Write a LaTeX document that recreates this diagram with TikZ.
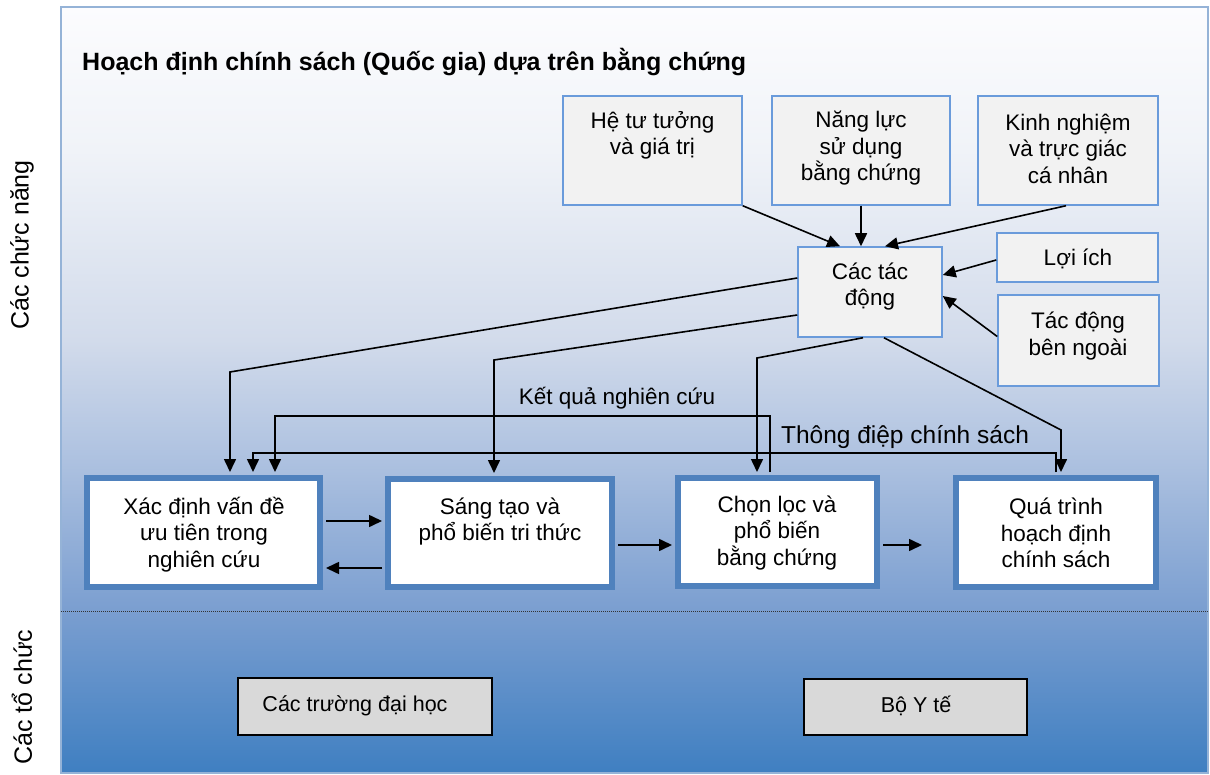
\documentclass[tikz,border=0pt]{standalone}
\usepackage{fontspec}
\setmainfont{Liberation Sans}
\usetikzlibrary{arrows.meta,calc}

\definecolor{bandA}{HTML}{FCFCFE}
\definecolor{bandB}{HTML}{F0F3F8}
\definecolor{bandC}{HTML}{D2DBEB}
\definecolor{bandD}{HTML}{AABFDF}
\definecolor{bandE}{HTML}{7A9ED0}
\definecolor{bandF}{HTML}{3F7FC1}
\definecolor{frameblue}{HTML}{95B3D7}
\definecolor{inborder}{HTML}{6A9BDB}
\definecolor{infill}{HTML}{F2F2F2}
\definecolor{stepblue}{HTML}{4F81BD}
\definecolor{orgfill}{HTML}{D9D9D9}

\begin{document}
\begin{tikzpicture}[x=1pt,y=-1pt,
  every node/.style={inner sep=0pt},
  inbox/.style={draw=inborder, fill=infill, line width=1.5pt},
  stepbox/.style={draw=stepblue, fill=white, line width=6pt},
  orgbox/.style={draw=black, fill=orgfill, line width=1.6pt},
  txt/.style={align=center, font=\fontsize{22.5}{26.5}\selectfont},
  lbl/.style={font=\fontsize{22.5}{27}\selectfont},
  arr/.style={draw=black, line width=1.6pt, -{Triangle[length=13pt,width=12pt]}},
]
\useasboundingbox (0,0) rectangle (1210,775);

% panel background, shaded in bands from white down to blue
\shade[top color=bandA, bottom color=bandB] (61,7) rectangle (1208,150.5);
\shade[top color=bandB, bottom color=bandC] (61,150) rectangle (1208,340.5);
\shade[top color=bandC, bottom color=bandD] (61,340) rectangle (1208,470.5);
\shade[top color=bandD, bottom color=bandE] (61,470) rectangle (1208,611.5);
\shade[top color=bandE, bottom color=bandF] (61,611) rectangle (1208,773);
\draw[frameblue, line width=1.5pt] (61,7) rectangle (1208,773);

% split between functions and organisations
\coordinate (dl) at (61,611);
\coordinate (dr) at (1208,611);
\draw[black!80, line width=1pt, dash pattern=on 1pt off 1pt] (dl) -- (dr);

% side captions
\node[font=\fontsize{25}{29}\selectfont, rotate=90] (capfun) at (22,245) {Các chức năng};
\node[font=\fontsize{25}{29}\selectfont, rotate=90] (caporg) at (22,697) {Các tổ chức};

% title
\node[anchor=west, font=\fontsize{25}{29}\selectfont\bfseries] (title) at (82,62)
  {Hoạch định chính sách (Quốc gia) dựa trên bằng chứng};

% influences
\node[inbox, minimum width=179pt, minimum height=109pt] (hetu) at (652.5,150.5) {};
\node[txt] (hetu-t) at (652.5,135.5) {Hệ tư tưởng\\và giá trị};
\node[inbox, minimum width=178pt, minimum height=109pt] (nang) at (861,150.5) {};
\node[txt] (nang-t) at (861,148.5) {Năng lực\\sử dụng\\bằng chứng};
\node[inbox, minimum width=180pt, minimum height=109pt] (kinh) at (1068,150.5) {};
\node[txt] (kinh-t) at (1068,148.5) {Kinh nghiệm\\và trực giác\\cá nhân};
\node[inbox, minimum width=144pt, minimum height=90pt] (tac) at (870,292) {};
\node[txt] (tac-t) at (870,286.5) {Các tác\\động};
\node[inbox, minimum width=161pt, minimum height=49pt] (loi) at (1077.5,257.5) {};
\node[txt] (loi-t) at (1078,258.5) {Lợi ích};
\node[inbox, minimum width=161pt, minimum height=91pt] (ngoai) at (1078.5,340.5) {};
\node[txt] (ngoai-t) at (1078,336) {Tác động\\bên ngoài};

\draw[arr] (hetu.south east) -- ($(tac.north)+(-30,0)$);
\draw[arr] (nang.south) -- ($(tac.north)+(-9,0)$);
\draw[arr] ($(kinh.south)+(-2,0)$) -- ($(tac.north)+(15,0)$);
\draw[arr] ($(loi.west)+(0,2.5)$) -- ($(tac.east)+(0,-17)$);
\draw[arr] ($(ngoai.west)+(0,-4)$) -- ($(tac.east)+(0,4)$);

% process steps
\node[stepbox, minimum width=233pt, minimum height=109pt] (xac) at (203.5,532.5) {};
\node[txt] (xac-t) at (204,534.5) {Xác định vấn đề\\ưu tiên trong\\nghiên cứu};
\node[stepbox, minimum width=224pt, minimum height=108pt] (sang) at (500,533) {};
\node[txt] (sang-t) at (500,521.5) {Sáng tạo và\\phổ biến tri thức};
\node[stepbox, minimum width=199pt, minimum height=108pt] (chon) at (777.5,532) {};
\node[txt] (chon-t) at (777,533) {Chọn lọc và\\phổ biến\\bằng chứng};
\node[stepbox, minimum width=200pt, minimum height=109pt] (qua) at (1056,532.5) {};
\node[txt] (qua-t) at (1056,533) {Quá trình\\hoạch định\\chính sách};

% influences acting on each step
\draw[arr, shorten >=3pt] ($(tac.west)+(0,-14)$) -- (230,372) -- ([xshift=26.5pt]xac.north);
\draw[arr, shorten >=3pt] ($(tac.west)+(0,23)$) -- (494,360) -- ([xshift=-6pt]sang.north);
\draw[arr, shorten >=3pt] ($(tac.south)+(-7,0)$) -- (757,358) -- ([xshift=-20.5pt]chon.north);
\draw[arr, shorten >=3pt] ($(tac.south)+(14,0)$) -- (1061,430) -- ([xshift=5pt]qua.north);

% feedback loops
\draw[arr, shorten <=3pt, shorten >=3pt] ([xshift=-7.5pt]chon.north) |- (275,416) -- ([xshift=71.5pt]xac.north);
\node[lbl] (kq) at (617,398) {Kết quả nghiên cứu};
\draw[arr, shorten <=3pt, shorten >=3pt] (qua.north) |- (253,453) -- ([xshift=49.5pt]xac.north);
\node[lbl, font=\fontsize{24.5}{28}\selectfont] (td) at (905,437) {Thông điệp chính sách};

% flow between steps
\coordinate (flowend) at (922,545);
\draw[arr] ($(xac.east)+(3,-11.5)$) -- ($(sang.west)+(-3,-12)$);
\draw[arr] ($(sang.west)+(-3,35)$) -- ($(xac.east)+(3,35.5)$);
\draw[arr] ($(sang.east)+(3,12)$) -- ($(chon.west)+(-3,13)$);
\draw[arr] ($(chon.east)+(3,13)$) -- (flowend);

% organisations
\node[orgbox, minimum width=254pt, minimum height=57pt] (dh) at (365,706.5) {};
\node[font=\fontsize{21.5}{26}\selectfont] (dh-t) at (355,705.5) {Các trường đại học};
\node[orgbox, minimum width=223pt, minimum height=56pt] (byt) at (915.5,707) {};
\node[font=\fontsize{21.5}{26}\selectfont] (byt-t) at (916,705.5) {Bộ Y tế};
\end{tikzpicture}
\end{document}
